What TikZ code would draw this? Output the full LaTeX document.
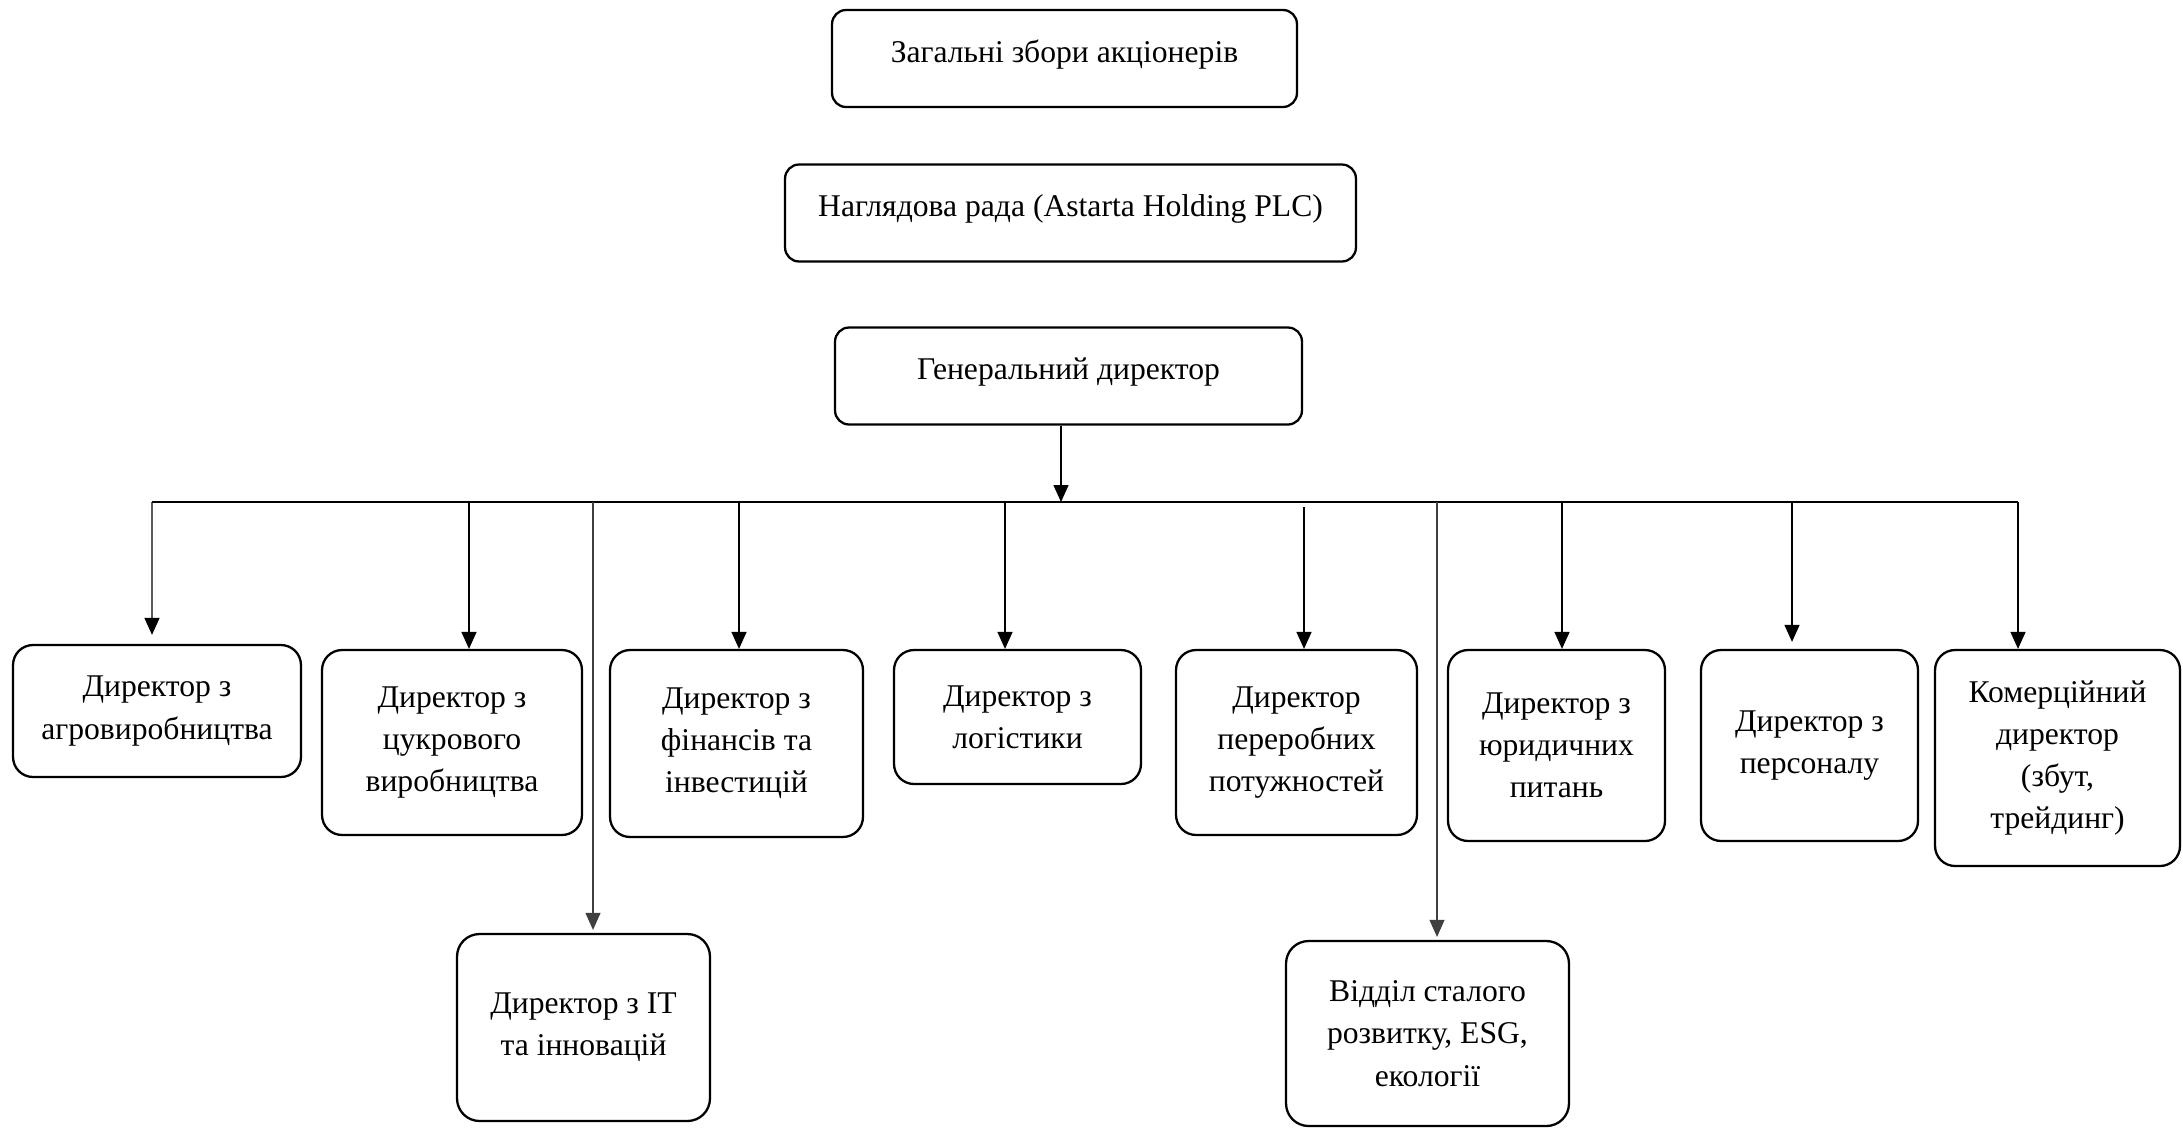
\documentclass[tikz,border=0pt]{standalone}
\usepackage{fontspec}
\setmainfont{Liberation Serif}
\usetikzlibrary{arrows.meta,positioning,calc}

\begin{document}
\begin{tikzpicture}[
  x=0.02cm, y=-0.02cm,
  font=\fontsize{18}{24}\selectfont,
  arrow/.style={-{Triangle[length=3.4mm, width=3mm]}, line width=0.8pt, draw=black},
  longarrow/.style={-{Triangle[length=3.4mm, width=3mm]}, line width=0.6pt, draw=black!75},
  topbox/.style={draw=black, line width=1.3pt, rounded corners=0.28cm, align=center, inner xsep=0pt, inner ysep=0pt, text height=1.04cm, text depth=0.90cm},
  unit/.style={draw=black, line width=1.3pt, rounded corners=0.4cm, align=center, inner sep=2pt}
]
\useasboundingbox (0,0) rectangle (2183,1127);

% Governing bodies.
\node[topbox, minimum width=9.3cm] (meeting) at (1064.5,58.5) {Загальні збори акціонерів};
\node[topbox, minimum width=11.42cm] (board) at (1070.5,213) {Наглядова рада (Astarta Holding PLC)};
\node[topbox, minimum width=9.34cm] (ceo) at (1068.5,376) {Генеральний директор};

% Distribution bus.
\coordinate (busL) at (152,502);
\coordinate (busR) at (2018,502);
\draw[arrow] ([xshift=-0.15cm]ceo.south) -- ([xshift=-0.15cm]ceo.south |- busL);
\draw[line width=0.8pt] (busL) -- (busR);

% Directors, upper row.
\node[unit, minimum width=5.76cm, minimum height=2.64cm] (agro) at (157,711) {Директор з\\агровиробництва};
\node[unit, minimum width=5.2cm, minimum height=3.7cm] (sugar) at (452,742.5) {Директор з\\цукрового\\виробництва};
\node[unit, minimum width=5.06cm, minimum height=3.74cm] (finance) at (736.5,743.5) {Директор з\\фінансів та\\інвестицій};
\node[unit, minimum width=4.94cm, minimum height=2.68cm] (logist) at (1017.5,717) {Директор з\\логістики};
\node[unit, minimum width=4.82cm, minimum height=3.7cm] (process) at (1296.5,742.5) {Директор\\переробних\\потужностей};
\node[unit, minimum width=4.34cm, minimum height=3.82cm] (legal) at (1556.5,745.5) {Директор з\\юридичних\\питань};
\node[unit, minimum width=4.34cm, minimum height=3.82cm] (staff) at (1809.5,745.5) {Директор з\\персоналу};
\node[unit, minimum width=4.9cm, minimum height=4.32cm] (sales) at (2057.5,758) {Комерційний\\директор\\(збут,\\трейдинг)};

% Lower row.
\node[unit, minimum width=5.06cm, minimum height=3.74cm, rounded corners=0.45cm] (itdir) at (583.5,1027.5) {Директор з IT\\та інновацій};
\node[unit, minimum width=5.66cm, minimum height=3.7cm, rounded corners=0.45cm] (esg) at (1427.5,1033.5) {Відділ сталого\\розвитку, ESG,\\екології};

\draw[arrow] (busL) -- ([xshift=-0.1cm, yshift=0.18cm]agro.north);
\draw[arrow] ([xshift=0.34cm]sugar.north |- busL) -- ([xshift=0.34cm]sugar.north);
\draw[arrow] ([xshift=0.05cm]finance.north |- busL) -- ([xshift=0.05cm]finance.north);
\draw[arrow] ([xshift=-0.25cm]logist.north |- busL) -- ([xshift=-0.25cm]logist.north);
\draw[arrow] ([xshift=0.15cm, yshift=-0.1cm]process.north |- busL) -- ([xshift=0.15cm]process.north);
\draw[arrow] ([xshift=0.11cm]legal.north |- busL) -- ([xshift=0.11cm]legal.north);
\draw[arrow] ([xshift=-0.35cm]staff.north |- busL) -- ([xshift=-0.35cm, yshift=0.14cm]staff.north);
\draw[arrow] (busR) -- (sales.north -| busR);
\draw[longarrow] ([xshift=0.19cm]itdir.north |- busL) -- ([xshift=0.19cm, yshift=0.06cm]itdir.north);
\draw[longarrow] ([xshift=0.19cm]esg.north |- busL) -- ([xshift=0.19cm, yshift=0.06cm]esg.north);

\end{tikzpicture}
\end{document}
